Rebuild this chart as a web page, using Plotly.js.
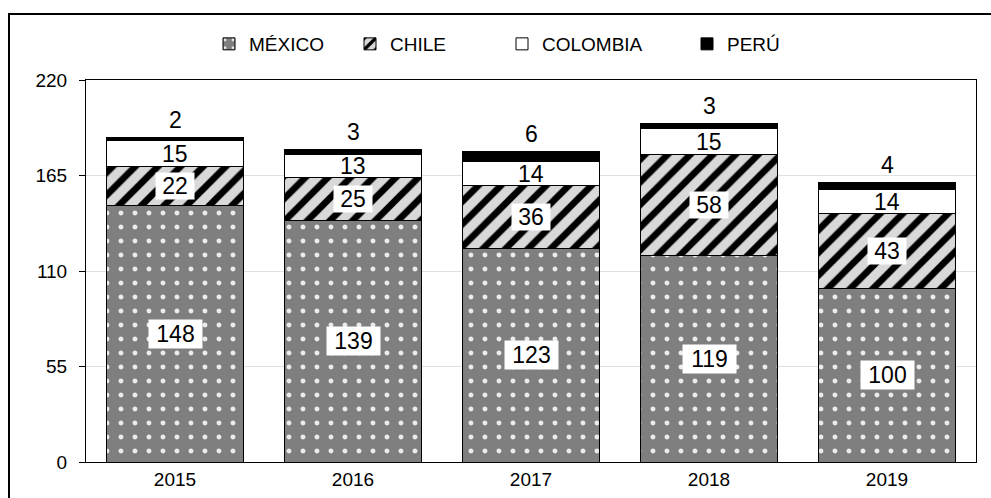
<!DOCTYPE html>
<html><head><meta charset="utf-8">
<script src="https://cdn.plot.ly/plotly-3.0.1.min.js"></script>
<style>html,body{margin:0;padding:0;background:#fff;}#chart{width:991px;height:498px;}</style>
</head><body><div id="chart"></div>
<script>
const years = ["2015","2016","2017","2018","2019"];
const mexico = [148,139,123,119,100];
const chile = [22,25,36,58,43];
const colombia = [15,13,14,15,14];
const peru = [2,3,6,3,4];
const yTicks = [0,55,110,165,220];

const font = "Liberation Sans, Arial, sans-serif";
const W=991,H=498,L=86,R=15,T=80,B=36;
const pw=W-L-R, ph=H-T-B;
const line = {color:"#000", width:1};
const textStarts = [249,390,542,727];
const legY = 1+(80-44)/ph;
const legendCfg = k => ({orientation:"h", x:(textStarts[k]-40-L)/pw, xanchor:"left", y:legY, yanchor:"middle",
  font:{size:19,family:font,color:"#000"}, bgcolor:"rgba(0,0,0,0)", borderwidth:0, itemwidth:30});

const traces = [
  {type:"bar", name:"MÉXICO", x:years, y:mexico, legend:"legend",
   marker:{color:"#7f7f7f", line:line, pattern:{shape:".", fgcolor:"#ffffff", bgcolor:"#7f7f7f", fgopacity:0.85, size:14, solidity:0.1, fillmode:"overlay"}}},
  {type:"bar", name:"CHILE", x:years, y:chile, legend:"legend2",
   marker:{color:"#d9d9d9", line:line, pattern:{shape:"/", fgcolor:"#000000", bgcolor:"#d9d9d9", fgopacity:1, size:16, solidity:0.42, fillmode:"overlay"}}},
  {type:"bar", name:"COLOMBIA", x:years, y:colombia, legend:"legend3",
   marker:{color:"#ffffff", line:line}},
  {type:"bar", name:"PERÚ", x:years, y:peru, legend:"legend4",
   marker:{color:"#000000", line:line}}
];

const annotations = [];
const lf = {size:23,color:"#000",family:font};
const boxW = v => String(v).length*13 + 12;
years.forEach((yr,i)=>{
  const b1 = mexico[i], b2 = b1+chile[i], b3 = b2+colombia[i], b4 = b3+peru[i];
  annotations.push({x:i, y:mexico[i]/2, text:String(mexico[i]), showarrow:false, bgcolor:"#ffffff", borderpad:1, width:boxW(mexico[i]), font:lf});
  annotations.push({x:i, y:b1+chile[i]/2, text:String(chile[i]), showarrow:false, bgcolor:"#ffffff", borderpad:0, width:boxW(chile[i]), font:lf});
  annotations.push({x:i, y:b2+colombia[i]/2, text:String(colombia[i]), showarrow:false, font:lf});
  annotations.push({x:i, y:b4, yanchor:"bottom", yshift:2, text:String(peru[i]), showarrow:false, font:lf});
});

const layout = {
  width:W, height:H,
  margin:{l:L,r:R,t:T,b:B,pad:0},
  paper_bgcolor:"#fff", plot_bgcolor:"#fff",
  barmode:"stack", bargap:0.23,
  font:{family:font, size:19, color:"#000"},
  showlegend:true,
  legend:legendCfg(0), legend2:legendCfg(1), legend3:legendCfg(2), legend4:legendCfg(3),
  xaxis:{type:"category", range:[-0.5,4.5], autorange:false, showline:true, linecolor:"#000", linewidth:1, mirror:true,
         ticks:"", tickfont:{size:19}, showgrid:false, zeroline:false},
  yaxis:{range:[0,220], autorange:false, tickvals:yTicks, ticktext:yTicks.map(String), showline:true, linecolor:"#000", linewidth:1, mirror:true,
         ticks:"outside", ticklen:6, tickcolor:"#000", gridcolor:"#e0e0e0", gridwidth:1, zeroline:false,
         ticklabelstandoff:8, tickfont:{size:19}},
  annotations:annotations,
  shapes:[{type:"rect", xref:"paper", yref:"paper",
           x0:(9-L)/pw, x1:(W+20-L)/pw, y0:-(B+20)/ph, y1:1+(T-14)/ph,
           line:{color:"#000", width:2}, fillcolor:"rgba(0,0,0,0)", layer:"above"}]
};
Plotly.newPlot("chart", traces, layout, {displayModeBar:false, staticPlot:true});
</script></body></html>
